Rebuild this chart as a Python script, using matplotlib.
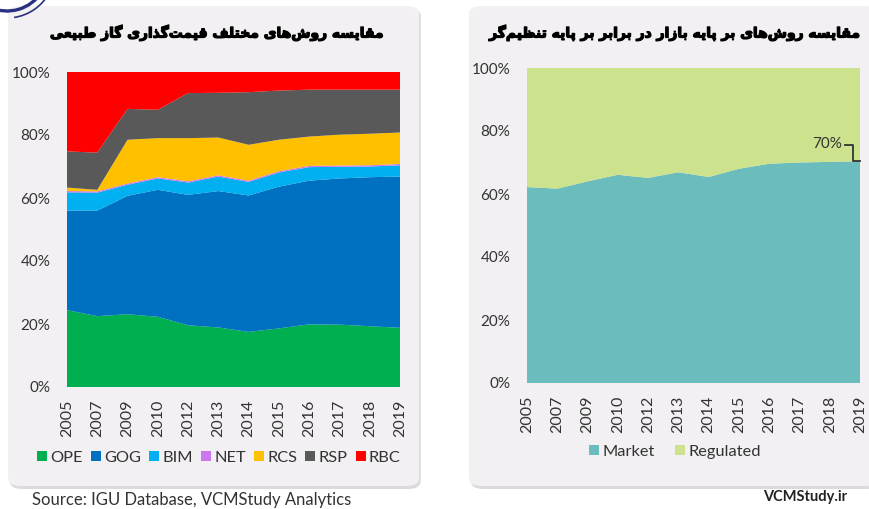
import matplotlib.pyplot as plt
import matplotlib.patheffects as pe
from matplotlib.patches import FancyBboxPatch, Patch, Arc

# data
years = ['2005', '2007', '2009', '2010', '2012', '2013', '2014', '2015', '2016', '2017', '2018', '2019']
ope = [24.4, 22.5, 23.1, 22.3, 19.6, 18.9, 17.5, 18.6, 19.9, 19.8, 19.3, 18.8]
gog = [31.6, 33.5, 37.6, 40.3, 41.4, 43.3, 43.3, 45.0, 45.6, 46.4, 47.3, 48.0]
bim = [5.8, 5.7, 3.5, 3.6, 3.9, 4.6, 4.3, 4.5, 4.3, 3.7, 3.4, 3.6]
net = [0.4, 0.4, 0.4, 0.4, 0.4, 0.4, 0.4, 0.4, 0.4, 0.4, 0.4, 0.4]
rcs = [1.1, 0.5, 13.9, 12.4, 13.7, 12.0, 11.4, 10.0, 9.3, 9.8, 10.0, 10.0]
rsp = [11.5, 11.8, 9.8, 9.0, 14.3, 14.2, 16.7, 15.6, 14.9, 14.3, 14.0, 13.6]
rbc = [25.2, 25.6, 11.7, 12.0, 6.7, 6.6, 6.4, 5.9, 5.6, 5.6, 5.6, 5.6]
names = ['OPE', 'GOG', 'BIM', 'NET', 'RCS', 'RSP', 'RBC']
colors = ['#00b050', '#0070c0', '#00b0f0', '#cc77ee', '#ffc000', '#595959', '#ff0000']

market = [62.2, 61.7, 64.0, 66.1, 65.1, 66.9, 65.4, 68.0, 69.6, 70.0, 70.2, 70.4]
regulated = [100 - m for m in market]

title_left = 'مقایسه روش‌های مختلف قیمت‌گذاری گاز طبیعی'
title_right = 'مقایسه روش‌های بر پایه بازار در برابر بر پایه تنظیم‌گر'

# simple persian shaping (matplotlib has no text shaping)
FORMS = {
    'ا': ('\uFE8D', '\uFE8E', None, None),
    'ب': ('\uFE8F', '\uFE90', '\uFE91', '\uFE92'),
    'پ': ('\uFB56', '\uFB57', '\uFB58', '\uFB59'),
    'ت': ('\uFE95', '\uFE96', '\uFE97', '\uFE98'),
    'خ': ('\uFEA5', '\uFEA6', '\uFEA7', '\uFEA8'),
    'د': ('\uFEA9', '\uFEAA', None, None),
    'ذ': ('\uFEAB', '\uFEAC', None, None),
    'ر': ('\uFEAD', '\uFEAE', None, None),
    'ز': ('\uFEAF', '\uFEB0', None, None),
    'س': ('\uFEB1', '\uFEB2', '\uFEB3', '\uFEB4'),
    'ش': ('\uFEB5', '\uFEB6', '\uFEB7', '\uFEB8'),
    'ط': ('\uFEC1', '\uFEC2', '\uFEC3', '\uFEC4'),
    'ظ': ('\uFEC5', '\uFEC6', '\uFEC7', '\uFEC8'),
    'ع': ('\uFEC9', '\uFECA', '\uFECB', '\uFECC'),
    'ف': ('\uFED1', '\uFED2', '\uFED3', '\uFED4'),
    'ق': ('\uFED5', '\uFED6', '\uFED7', '\uFED8'),
    'گ': ('\uFB92', '\uFB93', '\uFB94', '\uFB95'),
    'ل': ('\uFEDD', '\uFEDE', '\uFEDF', '\uFEE0'),
    'م': ('\uFEE1', '\uFEE2', '\uFEE3', '\uFEE4'),
    'ن': ('\uFEE5', '\uFEE6', '\uFEE7', '\uFEE8'),
    'ه': ('\uFEE9', '\uFEEA', '\uFEEB', '\uFEEC'),
    'و': ('\uFEED', '\uFEEE', None, None),
    'ی': ('\uFBFC', '\uFBFD', '\uFBFE', '\uFBFF'),
}


def shape(s):
    out = []
    for i, c in enumerate(s):
        if c not in FORMS:
            if c != '\u200c':
                out.append(c)
            continue
        prev = s[i - 1] if i > 0 else ''
        nxt = s[i + 1] if i + 1 < len(s) else ''
        jp = prev in FORMS and FORMS[prev][2] is not None
        jn = FORMS[c][2] is not None and nxt in FORMS
        iso, fin, ini, med = FORMS[c]
        if jp and jn:
            out.append(med)
        elif jp:
            out.append(fin)
        elif jn:
            out.append(ini)
        else:
            out.append(iso)
    return ''.join(out)[::-1]


plt.rcParams['font.family'] = ['Lato', 'DejaVu Sans']

W, H = 870, 509
fig = plt.figure(figsize=(8.7, 5.09), dpi=100)
fig.patch.set_facecolor('white')

# panels
for x0, x1 in [(8, 419), (469, 878)]:
    shadow = FancyBboxPatch((x0 / W + 0.002, (509 - 487) / H - 0.004), (x1 - x0) / W, (487 - 6) / H,
                            boxstyle='round,pad=0,rounding_size=0.015', transform=fig.transFigure,
                            facecolor='#dddadd', edgecolor='none', zorder=-3)
    box = FancyBboxPatch((x0 / W, (509 - 486) / H), (x1 - x0) / W, (486 - 6) / H,
                         boxstyle='round,pad=0,rounding_size=0.015', transform=fig.transFigure,
                         facecolor='#f2f0f2', edgecolor='none', zorder=-2)
    fig.patches.extend([shadow, box])

# bit of the logo swoosh peeking in at the top-left corner
for r, lw, t1, t2 in [(41, 2.4, 255, 312), (48, 1.2, 275, 318)]:
    fig.patches.append(Arc((7 / W, (509 + 30) / H), 2 * r / W, 2 * r / H, theta1=t1, theta2=t2,
                           transform=fig.transFigure, color='#2b3180', lw=lw, zorder=5))

x = list(range(len(years)))


def style_axes(ax):
    ax.set_xlim(0, len(years) - 1)
    ax.set_ylim(0, 100)
    ax.set_facecolor('#f2f0f2')
    for s in ax.spines.values():
        s.set_visible(False)
    ax.set_xticks(x)
    ax.set_xticklabels(years, rotation=90, fontsize=11.5, color='#333333')
    ax.set_yticks(range(0, 101, 20))
    ax.set_yticklabels([f'{v}%' for v in range(0, 101, 20)], fontsize=11, color='#333333')
    ax.tick_params(axis='x', length=0, pad=9)
    ax.tick_params(axis='y', length=0, pad=12)


bold = [pe.withStroke(linewidth=0.9, foreground='black')]

# left chart
ax1 = fig.add_axes([67 / W, (509 - 387) / H, 333 / W, 315 / H])
ax1.stackplot(x, ope, gog, bim, net, rcs, rsp, rbc, colors=colors, linewidth=0)
style_axes(ax1)
handles = [Patch(facecolor=c, edgecolor='none') for c in colors]
fig.legend(handles, names, loc='center', bbox_to_anchor=(219 / W, (509 - 458) / H), ncol=7,
           frameon=False, fontsize=11.8, handlelength=0.6, handleheight=0.6,
           handletextpad=0.2, columnspacing=0.5, labelcolor='#333333')
fig.text(217 / W, (509 - 33) / H, shape(title_left), ha='center', va='center',
         fontsize=10, fontweight='bold', family=['DejaVu Sans'], path_effects=bold)

# right chart
ax2 = fig.add_axes([527 / W, (509 - 383) / H, 333 / W, 315 / H])
ax2.stackplot(x, market, regulated, colors=['#6abcbd', '#cde28c'], linewidth=0)
style_axes(ax2)
ax2.text(10.42, 75.8, f'{market[-1]:.0f}%', ha='right', va='center', fontsize=11, color='#333333')
ax2.plot([10.50, 10.78, 10.78, 11.0], [75.4, 75.4, market[-1], market[-1]], color='#333333',
         lw=1.3, clip_on=False)
fig.legend([Patch(facecolor='#6abcbd'), Patch(facecolor='#cde28c')], ['Market', 'Regulated'],
           loc='center', bbox_to_anchor=(675 / W, (509 - 452) / H), ncol=2, frameon=False,
           fontsize=11.8, handlelength=0.6, handleheight=0.6, handletextpad=0.25,
           columnspacing=1.2, labelcolor='#333333')
fig.text(675 / W, (509 - 33) / H, shape(title_right), ha='center', va='center',
         fontsize=10, fontweight='bold', family=['DejaVu Sans'], path_effects=bold)

fig.text(32 / W, (509 - 500) / H, 'Source: IGU Database, VCMStudy Analytics', fontsize=12,
         color='#333333', va='center')
fig.text(805 / W, (509 - 497) / H, 'VCMStudy.ir', fontsize=10.5, fontweight='bold',
         color='#222222', ha='center', va='center')

fig.savefig('out.png', dpi=100)
